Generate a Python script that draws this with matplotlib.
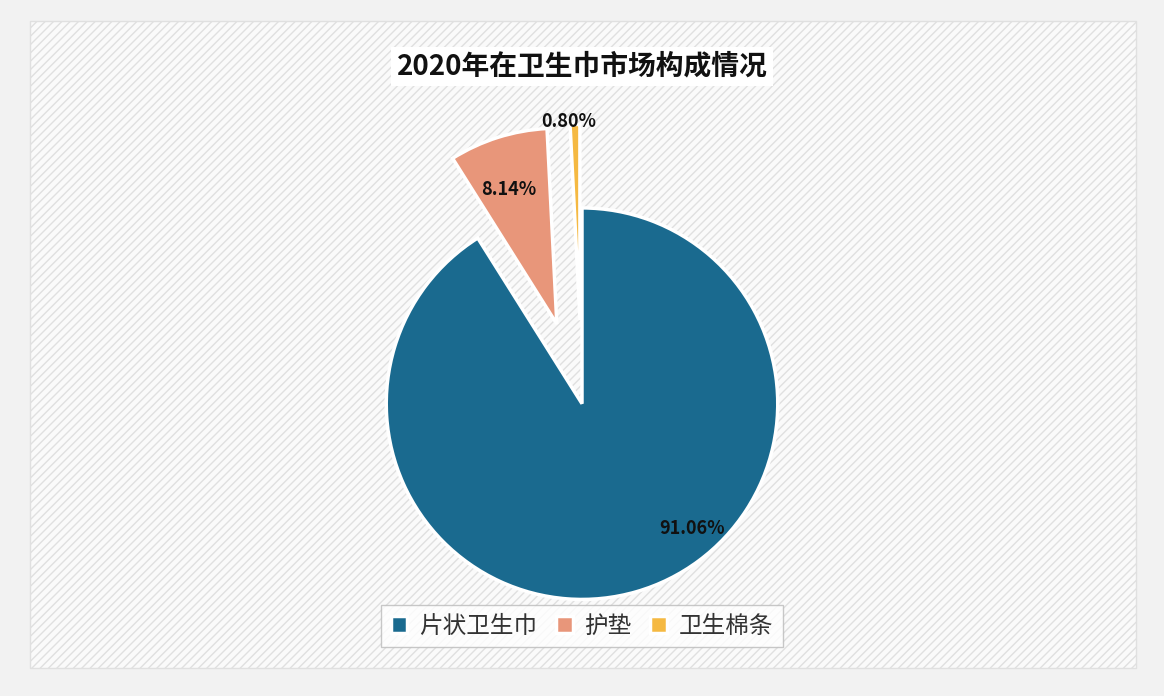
import matplotlib
matplotlib.use("Agg")
import matplotlib.pyplot as plt
from matplotlib.patches import Rectangle

plt.rcParams['font.family'] = ['Noto Sans CJK SC', 'DejaVu Sans']

categories = ['片状卫生巾', '护垫', '卫生棉条']
values = [91.06, 8.14, 0.80]
labels = ['91.06%', '8.14%', '0.80%']
colors = ['#1a6a8f', '#e8967a', '#f5b942']

fig = plt.figure(figsize=(11.64, 6.96), dpi=100)
fig.patch.set_facecolor('#f2f2f2')
card = Rectangle((0.026, 0.04), 0.95, 0.93, transform=fig.transFigure,
                 facecolor='#fafafa', edgecolor='#e0e0e0', hatch='////', zorder=-10)
fig.patches.append(card)

ax = fig.add_axes([0.25, 0.12, 0.5, 0.72], zorder=5)
ax.patch.set_visible(False)
wedges, _ = ax.pie(values, colors=colors, startangle=90, counterclock=False,
                   explode=[0, 0.32, 0.32], radius=0.75,
                   wedgeprops=dict(edgecolor='white', linewidth=2.5))
ax.set_aspect('equal')
ax.set_xlim(-1, 1)
ax.set_ylim(-0.8, 1.12)

ax.text(0.42, -0.48, labels[0], ha='center', va='center', fontsize=13, fontweight='bold', color='#111')
ax.text(-0.28, 0.82, labels[1], ha='center', va='center', fontsize=13, fontweight='bold', color='#111')
ax.text(-0.05, 1.08, labels[2], ha='center', va='center', fontsize=13, fontweight='bold', color='#111')

fig.text(0.5, 0.905, '2020年在卫生巾市场构成情况', ha='center', va='center',
         fontsize=20, fontweight='bold', color='#111', zorder=10,
         bbox=dict(facecolor='white', edgecolor='none', pad=4))

leg = fig.legend(wedges, categories, loc='center', bbox_to_anchor=(0.5, 0.1), ncol=3,
                 fontsize=17, frameon=True, fancybox=False, edgecolor='#bbbbbb',
                 handlelength=0.7, handleheight=0.7, columnspacing=0.8, handletextpad=0.5)
for t in leg.get_texts():
    t.set_color('#333')

fig.savefig('out.png', dpi=100, facecolor=fig.get_facecolor())
